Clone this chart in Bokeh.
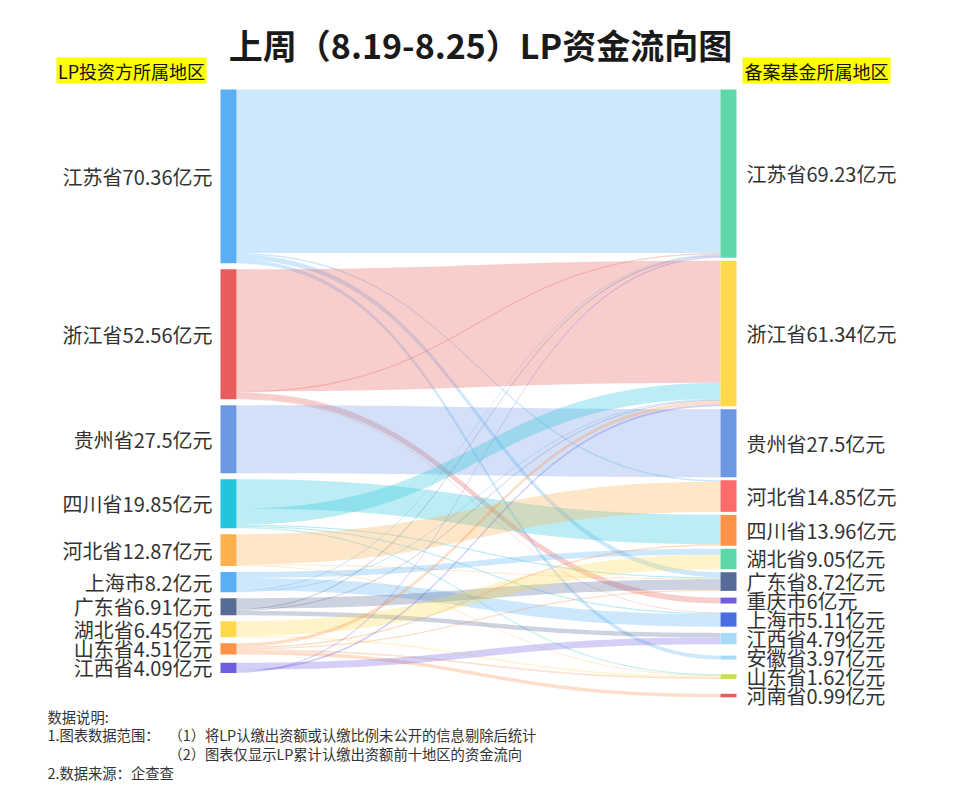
import numpy as np
from bokeh.plotting import figure
from bokeh.models import Range1d
from bokeh.core.properties import value
from bokeh.embed import file_html
from bokeh.resources import INLINE

FONT = "Noto Sans CJK SC"

# ---------------- data ----------------
title_text = "上周（8.19-8.25）LP资金流向图"
left_header = "LP投资方所属地区"
right_header = "备案基金所属地区"
note_title = "数据说明:"
note_1_head = "1.图表数据范围："
note_1a = "（1）将LP认缴出资额或认缴比例未公开的信息剔除后统计"
note_1b = "（2）图表仅显示LP累计认缴出资额前十地区的资金流向"
note_2 = "2.数据来源：企查查"

left_names = ["江苏省", "浙江省", "贵州省", "四川省", "河北省",
              "上海市", "广东省", "湖北省", "山东省", "江西省"]
left_values = [70.36, 52.56, 27.5, 19.85, 12.87, 8.2, 6.91, 6.45, 4.51, 4.09]

right_names = ["江苏省", "浙江省", "贵州省", "河北省", "四川省", "湖北省", "广东省",
               "重庆市", "上海市", "江西省", "安徽省", "山东省", "河南省"]
right_values = [69.23, 61.34, 27.5, 14.85, 13.96, 9.05, 8.72, 6, 5.11, 4.79, 3.97, 1.62, 0.99]

left_colors = ["#5aaef4", "#e85d5b", "#6c98e3", "#22c3dc", "#fdb14c",
               "#5aaef4", "#566b95", "#fed94b", "#fd9249", "#6e5fe0"]
right_colors = ["#5ed8a9", "#fed94b", "#6c98e3", "#fd6b6b", "#fd9249", "#5ed8a9", "#566b95",
                "#6e5fe0", "#4a6ee0", "#a6dbf7", "#a6dbf7", "#c9e24b", "#e85d5b"]

# flows (estimated), listed in the order they leave each source node
link_source = ["江苏省", "江苏省", "江苏省", "江苏省",
               "浙江省", "浙江省", "浙江省", "浙江省",
               "贵州省",
               "四川省", "四川省", "四川省", "四川省", "四川省",
               "河北省", "河北省", "河北省",
               "上海市", "上海市", "上海市", "上海市",
               "广东省", "广东省", "广东省", "广东省",
               "湖北省", "湖北省",
               "山东省", "山东省", "山东省", "山东省", "山东省",
               "江西省", "江西省", "江西省"]
link_target = ["江苏省", "河北省", "广东省", "安徽省",
               "浙江省", "江苏省", "重庆市", "上海市",
               "贵州省",
               "四川省", "浙江省", "广东省", "上海市", "山东省",
               "河北省", "广东省", "山东省",
               "湖北省", "上海市", "江苏省", "浙江省",
               "广东省", "江苏省", "浙江省", "江西省",
               "湖北省", "山东省",
               "浙江省", "四川省", "广东省", "山东省", "河南省",
               "江西省", "浙江省", "江苏省"]
link_value = [66.2, 0.6, 2.0, 1.56,
              49.4, 0.5, 2.4, 0.26,
              27.5,
              11.9, 6.5, 0.5, 0.5, 0.45,
              12.2, 0.35, 0.32,
              2.4, 5.0, 0.4, 0.4,
              4.2, 0.5, 0.4, 1.81,
              5.9, 0.55,
              1.4, 0.6, 0.5, 0.6, 1.41,
              2.79, 0.8, 0.5]

# ---------------- layout ----------------
W, H = 944, 789
LX, RX, NW = 220.0, 720.0, 16.0
TOP, BOTTOM_L = 89.0, 670.0
GAP_L, GAP_R, MIN_SP = 6.0, 3.0, 19.0

nL, nR = len(left_names), len(right_names)
src_idx = [left_names.index(s) for s in link_source]
tgt_idx = [right_names.index(t) for t in link_target]
out_sum = np.zeros(nL)
in_sum = np.zeros(nR)
for s, t, v in zip(src_idx, tgt_idx, link_value):
    out_sum[s] += v
    in_sum[t] += v

K = (BOTTOM_L - TOP - (nL - 1) * GAP_L) / out_sum.sum()


def stack(sizes, gap):
    tops = []
    prev_b = prev_c = None
    for h in sizes:
        if prev_b is None:
            t = TOP
        else:
            t = max(prev_b + gap, prev_c + MIN_SP - h / 2.0)
        tops.append(t)
        prev_b = t + h
        prev_c = t + h / 2.0
    return np.array(tops)


lh = out_sum * K
rh = in_sum * K
ltop = stack(lh, GAP_L)
rtop = stack(rh, GAP_R)

# link offsets
widths = [v * K for v in link_value]
y0 = [0.0] * len(link_value)
y1 = [0.0] * len(link_value)
off = ltop.copy()
for i, (s, w) in enumerate(zip(src_idx, widths)):
    y0[i] = off[s]
    off[s] += w
order = sorted(range(len(link_value)), key=lambda i: (src_idx[i], i))
off = rtop.copy()
for i in order:
    t = tgt_idx[i]
    y1[i] = off[t]
    off[t] += widths[i]

x0, x1 = LX + NW, RX
xm = (x0 + x1) / 2.0
tt = np.linspace(0, 1, 60)
a = (1 - tt) ** 3 + 3 * (1 - tt) ** 2 * tt
b = 3 * (1 - tt) * tt ** 2 + tt ** 3
bx = x0 * (1 - tt) ** 3 + 3 * (1 - tt) ** 2 * tt * xm + 3 * (1 - tt) * tt ** 2 * xm + x1 * tt ** 3

pxs, pys, pcol = [], [], []
for i in range(len(link_value)):
    top_y = y0[i] * a + y1[i] * b
    bot_y = (y0[i] + widths[i]) * a + (y1[i] + widths[i]) * b
    pxs.append(list(bx) + list(bx[::-1]))
    pys.append(list(top_y) + list(bot_y[::-1]))
    pcol.append(left_colors[src_idx[i]])

# ---------------- figure ----------------
p = figure(width=W, height=H, x_range=Range1d(0, W), y_range=Range1d(H, 0),
           output_backend="svg", toolbar_location=None, min_border=0,
           x_axis_location=None, y_axis_location=None)
p.grid.visible = False
p.outline_line_color = None
p.background_fill_color = "white"
p.border_fill_color = "white"

p.patches(pxs, pys, fill_color=pcol, fill_alpha=0.3, line_color=None)

p.quad(left=LX, right=LX + NW, top=list(ltop), bottom=list(ltop + lh),
       fill_color=left_colors, line_color=None)
p.quad(left=RX, right=RX + NW, top=list(rtop), bottom=list(rtop + rh),
       fill_color=right_colors, line_color=None)

left_labels = [f"{n}{v:g}亿元" for n, v in zip(left_names, left_values)]
right_labels = [f"{n}{v:g}亿元" for n, v in zip(right_names, right_values)]
p.text(x=[LX - 8] * nL, y=list(ltop + lh / 2), text=left_labels,
       text_font=value(FONT), text_font_size="20px", text_color="#333333",
       text_align="right", text_baseline="middle")
p.text(x=[RX + NW + 10] * nR, y=list(rtop + rh / 2), text=right_labels,
       text_font=value(FONT), text_font_size="20px", text_color="#333333",
       text_align="left", text_baseline="middle")

# title
p.text(x=[480], y=[44], text=[title_text], text_font=value(FONT), text_font_size="34px",
       text_font_style="bold", text_color="#1a1a1a", text_align="center", text_baseline="middle")

# headers with yellow background
p.quad(left=[56, 742], right=[206, 890], top=[57, 57], bottom=[83, 83],
       fill_color="#ffff00", line_color=None)
p.text(x=[131, 816], y=[70, 70], text=[left_header, right_header], text_font=value(FONT),
       text_font_size="18px", text_color="#111111", text_align="center", text_baseline="middle")

# notes
p.text(x=[47, 47, 47], y=[716, 734, 772], text=[note_title, note_1_head, note_2],
       text_font=value(FONT), text_font_size="14.3px", text_color="#333333",
       text_align="left", text_baseline="middle")
p.text(x=[168, 168], y=[734, 753], text=[note_1a, note_1b],
       text_font=value(FONT), text_font_size="14.3px", text_color="#333333",
       text_align="left", text_baseline="middle")

open("out.html", "w").write(file_html(p, INLINE))
